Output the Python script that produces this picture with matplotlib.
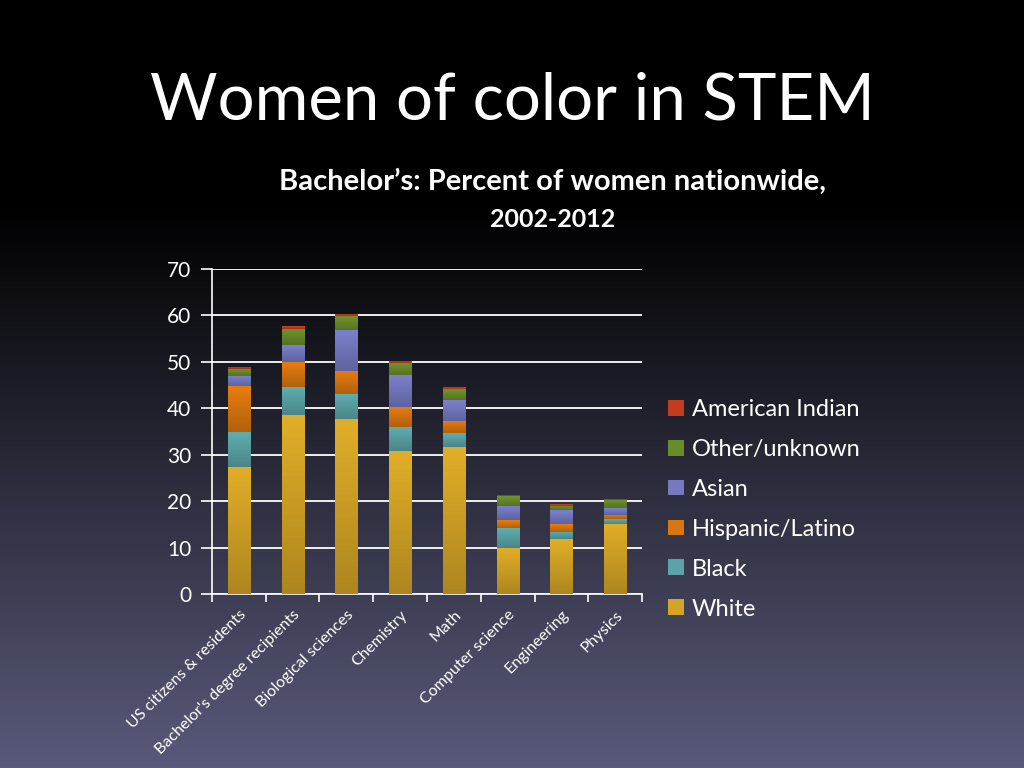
import numpy as np
import matplotlib
matplotlib.use("Agg")
import matplotlib.pyplot as plt
from matplotlib.patches import Patch
from matplotlib.colors import to_rgb

plt.rcParams['font.family'] = ['Lato', 'DejaVu Sans']

categories = ["US citizens & residents", "Bachelor's degree recipients",
              "Biological sciences", "Chemistry", "Math",
              "Computer science", "Engineering", "Physics"]
groups = ["White", "Black", "Hispanic/Latino", "Asian", "Other/unknown", "American Indian"]

white = [27.4, 38.6, 37.8, 30.8, 31.7, 10.0, 11.8, 15.1]
black = [7.4, 5.9, 5.3, 5.1, 2.9, 4.3, 1.6, 1.0]
hispanic = [9.9, 5.5, 5.0, 4.4, 2.7, 1.6, 1.7, 0.9]
asian = [2.3, 3.6, 8.8, 6.9, 4.5, 3.1, 3.0, 1.5]
other = [1.4, 3.5, 3.0, 2.5, 2.3, 2.0, 0.9, 1.8]
am_indian = [0.6, 0.6, 0.5, 0.5, 0.4, 0.3, 0.3, 0.2]

colors = ["#D4A426", "#5AA3A6", "#DA760F", "#7479C2", "#6A8B2A", "#C43C1E"]

fig = plt.figure(figsize=(10.24, 7.68), dpi=100)

# background gradient: black on top, slate blue at bottom
bg = fig.add_axes([0, 0, 1, 1])
rows = np.linspace(0, 1, 768)
t = np.clip((rows - 0.27) / 0.73, 0, 1)
bot_c = np.array([0x59, 0x5a, 0x7a]) / 255
grad = bot_c[None, :] * t[:, None]
bg.imshow(grad[:, None, :], aspect='auto', extent=[0, 1, 0, 1])
bg.set_axis_off()

fig.text(0.5, 0.868, "Women of color in STEM", color="white", fontsize=47,
         ha="center", va="center")
fig.text(0.54, 0.763, "Bachelor\u2019s: Percent of women nationwide,", color="white",
         fontsize=21, fontweight="bold", ha="center", va="center")
fig.text(0.54, 0.714, "2002-2012", color="white", fontsize=18,
         fontweight="bold", ha="center", va="center")

ax = fig.add_axes([0.207, 0.2266, 0.42, 0.4231])
ax.set_facecolor("none")
x = np.arange(len(categories))
series = [white, black, hispanic, asian, other, am_indian]
bottom = np.zeros(len(categories))
for vals, col, name in zip(series, colors, groups):
    bars = ax.bar(x, vals, 0.41, bottom=bottom, color=col, label=name, zorder=3)
    c = np.array(to_rgb(col))
    shade = np.linspace(0.82, 1.06, 32)[:, None] * c[None, :]
    shade = np.clip(shade, 0, 1)[:, None, :]
    for b in bars:
        x0, y0 = b.get_x(), b.get_y()
        im = ax.imshow(shade, origin='lower', aspect='auto', zorder=4,
                       extent=[x0, x0 + b.get_width(), y0, y0 + b.get_height()])
        im.set_clip_path(b)
    bottom += np.array(vals)

ax.set_ylim(0, 70)
ax.set_xlim(-0.5, len(categories) - 0.5)
ax.set_yticks(range(0, 71, 10))
ax.tick_params(axis='y', colors='white', labelcolor='white', labelsize=15,
               length=8, width=1.2, direction='out', pad=7)
ax.grid(axis='y', color='white', linewidth=1.3, zorder=1)
ax.set_xticks(np.arange(-0.5, len(categories), 1))
ax.set_xticklabels([])
ax.tick_params(axis='x', colors='white', length=6, width=1.2, direction='out')
ax.set_xticks(x, minor=True)
ax.set_xticklabels(categories, minor=True, rotation=45, ha='right',
                   rotation_mode='anchor', color='white', fontsize=11.5)
ax.tick_params(axis='x', which='minor', length=0, pad=10)
for s in ['top', 'right']:
    ax.spines[s].set_visible(False)
for s in ['left', 'bottom']:
    ax.spines[s].set_color('white')
    ax.spines[s].set_linewidth(1.2)

handles = [Patch(facecolor=c) for c in colors][::-1]
leg = fig.legend(handles, groups[::-1], loc='upper left',
                 bbox_to_anchor=(0.632, 0.508), frameon=False,
                 fontsize=17, handlelength=0.65, handleheight=0.65,
                 handletextpad=0.35, labelspacing=0.8)
for txt in leg.get_texts():
    txt.set_color('white')

fig.savefig("out.png", dpi=100)
